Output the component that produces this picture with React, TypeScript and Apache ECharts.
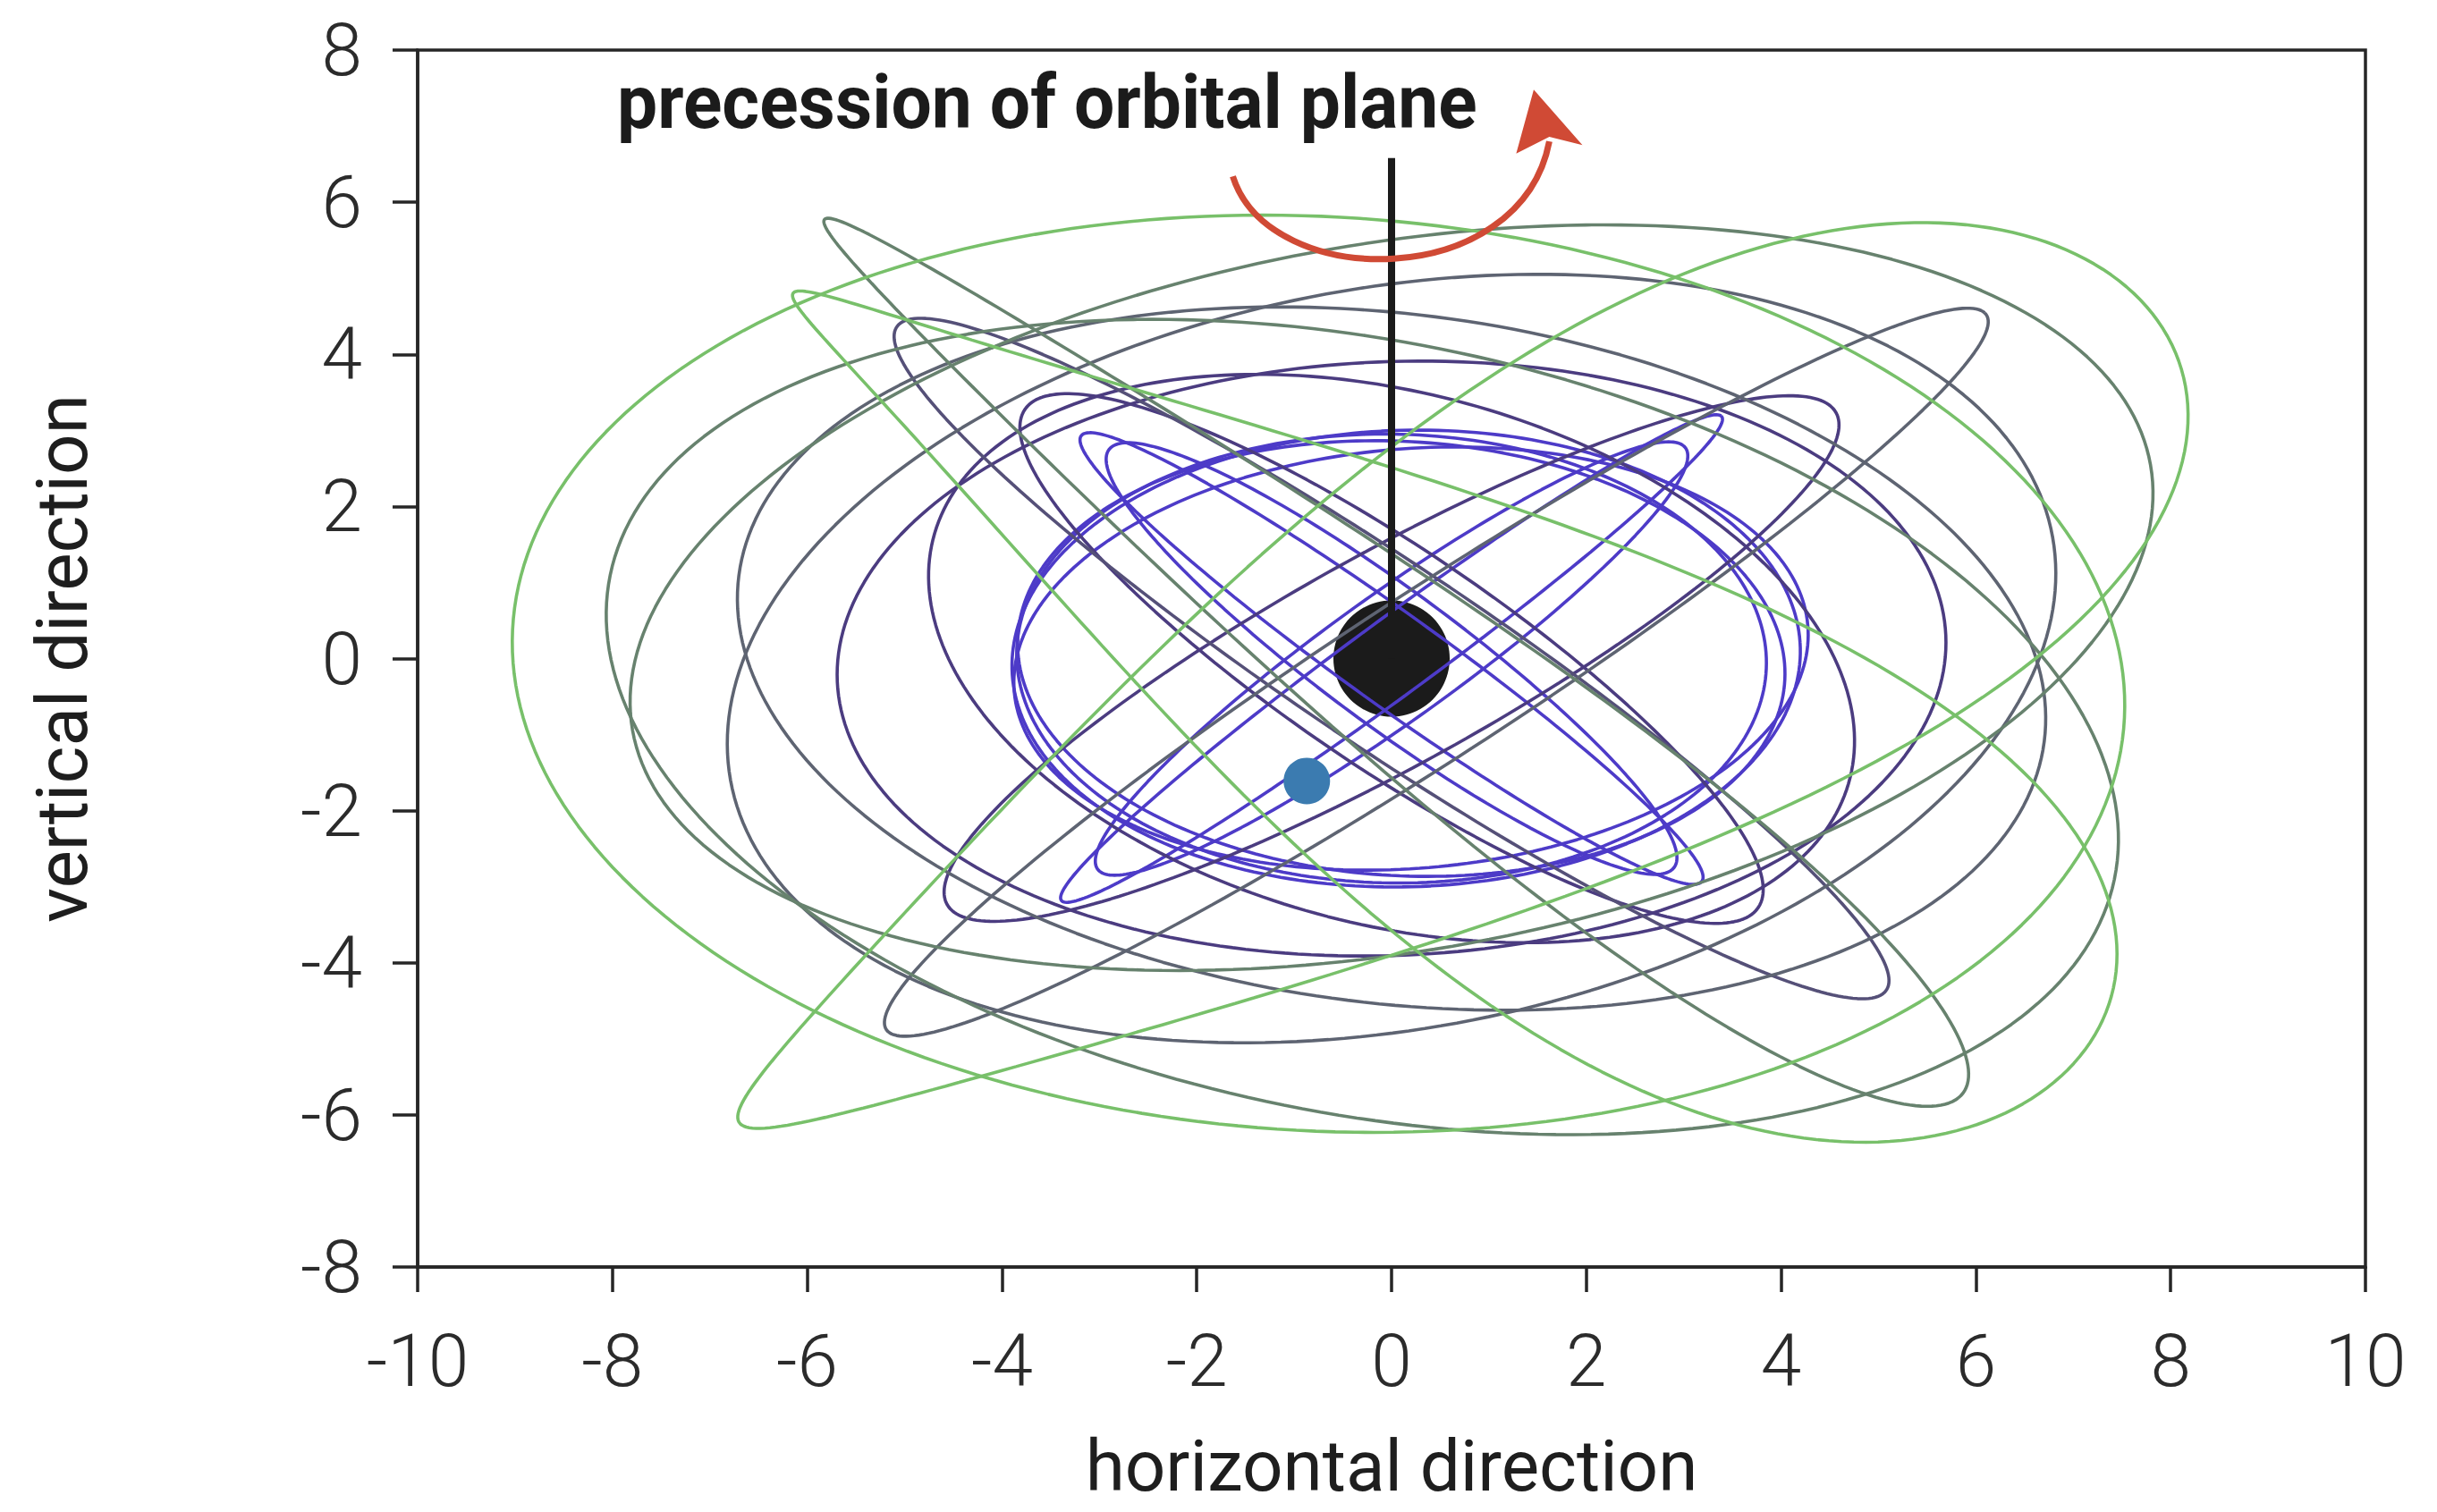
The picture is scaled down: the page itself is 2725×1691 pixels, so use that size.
import React, { useEffect, useRef } from "react";
import * as echarts from "echarts";

// ---- axes ----
const X_MIN = -10;
const X_MAX = 10;
const Y_MIN = -8;
const Y_MAX = 8;
const TICK_STEP = 2;

// ---- orbit loops ----
// centre, semi-major axis, half-width at the negative / positive end of the major axis, tilt (deg), colour group
const LOOP_CX = [0, 0, 0, 0, 0.15, 0.1, 0.2, 0, 0, 0, 0, 0, 0, 0.46, 0, 0, -0.3, 0, 0, 0.5, -0.75, 0.4];
const LOOP_CY = [0, 0, 0, 0, 0, 0, 0, 0, 0, 0, 0, 0, 0, -0.18, 0, 0, -0.9, 0.8, 0, -0.7, -0.2, -0.3];
const LOOP_A = [4.65, 4.1, 4.33, 4.0, 4.05, 3.95, 4.1, 3.85, 5.6, 5.7, 5.0, 5.0, 6.7, 7.35, 6.8, 7.0, 8.0, 8.0, 8.2, 9.0, 8.3, 8.3];
const LOOP_B_NEG = [0.45, 0.75, 0.55, 0.8, 3.0, 2.85, 2.75, 2.95, 1.3, 3.9, 3.4, 1.3, 1.1, 1.0, 4.5, 4.8, 5.0, 4.6, 0.5, 1.0, 6.0, 0.6];
const LOOP_B_POS = [0.45, 0.75, 0.55, 0.8, 3.0, 2.85, 2.75, 2.95, 1.3, 3.9, 3.4, 1.3, 1.1, 1.0, 4.5, 4.8, 5.0, 4.6, 1.6, 4.6, 6.0, 4.4];
const LOOP_TILT = [43.3, 43, -42.8, -44, 3, -6, 8, -2, 36, 4, -25, -42, -41, 40, -12, 18, -18, 15, -44.8, 37, -6, -38];
const LOOP_GROUP = [0, 0, 0, 0, 0, 0, 0, 0, 1, 1, 1, 1, 2, 3, 3, 3, 4, 4, 4, 5, 5, 5];
const GROUP_COLORS = ["#4d3bc8", "#4b3c80", "#555078", "#5e6472", "#67826e", "#78c06a"];

// ---- markers ----
const CENTRAL_BODY = [[0, 0]];
const COMPANION = [[-0.87, -1.61]];
const SPIN_AXIS = [[0, 0], [0, 6.58]];
// precession arrow: bezier shaft (4 points) and arrow head (4 points)
const ARROW_SHAFT = [[-1.63, 6.34], [-1.25, 4.82], [1.32, 4.82], [1.62, 6.8]];
const ARROW_HEAD = [[1.46, 7.48], [1.96, 6.75], [1.62, 6.86], [1.28, 6.64]];

const TITLE = "precession of orbital plane";
const X_NAME = "horizontal direction";
const Y_NAME = "vertical direction";

function loopPoints(i: number): number[][] {
  const pts: number[][] = [];
  const th = (LOOP_TILT[i] * Math.PI) / 180;
  const c = Math.cos(th);
  const s = Math.sin(th);
  const bn = LOOP_B_NEG[i];
  const bp = LOOP_B_POS[i];
  const n = 260;
  for (let k = 0; k <= n; k++) {
    const t = (k / n) * Math.PI * 2;
    const half = (bn + bp) / 2 + ((bp - bn) / 2) * Math.cos(t);
    const u = LOOP_A[i] * Math.cos(t);
    const v = half * Math.sin(t);
    pts.push([LOOP_CX[i] + u * c - v * s, LOOP_CY[i] + u * s + v * c]);
  }
  return pts;
}

export default function App() {
  const ref = useRef<HTMLDivElement>(null);
  useEffect(() => {
    document.body.style.margin = "0";
    const chart = echarts.init(ref.current!, undefined, { renderer: "svg" });
    const axisColor = "#262626";
    const labelStyle = {
      fontFamily: "Roboto",
      fontWeight: 300,
      fontSize: 82,
      color: "#2b2b2b",
    };
    const nameStyle = {
      fontFamily: "Roboto",
      fontWeight: 400,
      fontSize: 80,
      color: "#1e1e1e",
    };
    const loopSeries = LOOP_A.map((_, i) => ({
      type: "line",
      data: loopPoints(i),
      showSymbol: false,
      symbol: "none",
      silent: true,
      z: 2,
      lineStyle: { color: GROUP_COLORS[LOOP_GROUP[i]], width: 3.6 },
    }));
    chart.setOption({
      animation: false,
      backgroundColor: "#ffffff",
      grid: {
        left: 467,
        right: 80,
        top: 56,
        bottom: 274,
        outerBoundsMode: "none",
        show: true,
        borderColor: axisColor,
        borderWidth: 3.5,
        backgroundColor: "transparent",
      },
      xAxis: {
        type: "value",
        min: X_MIN,
        max: X_MAX,
        interval: TICK_STEP,
        axisLine: { show: true, onZero: false, lineStyle: { color: axisColor, width: 3.5 } },
        axisTick: { show: true, length: 28, lineStyle: { color: axisColor, width: 3.5 } },
        axisLabel: { ...labelStyle, margin: 64 },
        splitLine: { show: false },
        name: X_NAME,
        nameLocation: "middle",
        nameGap: 188,
        nameTextStyle: { ...nameStyle, lineHeight: 70 },
      },
      yAxis: {
        type: "value",
        min: Y_MIN,
        max: Y_MAX,
        interval: TICK_STEP,
        axisLine: { show: true, onZero: false, lineStyle: { color: axisColor, width: 3.5 } },
        axisTick: { show: true, length: 28, lineStyle: { color: axisColor, width: 3.5 } },
        axisLabel: { ...labelStyle, margin: 62 },
        splitLine: { show: false },
        name: Y_NAME,
        nameLocation: "middle",
        nameGap: 357,
        nameTextStyle: nameStyle,
      },
      series: [
        {
          type: "scatter",
          data: CENTRAL_BODY,
          symbolSize: 130,
          itemStyle: { color: "#1b1b1b", opacity: 1 },
          silent: true,
          z: 1,
        },
        ...loopSeries,
        {
          type: "line",
          data: SPIN_AXIS,
          showSymbol: false,
          symbol: "none",
          silent: true,
          z: 3,
          lineStyle: { color: "#1b1b1b", width: 8 },
        },
        {
          type: "scatter",
          data: COMPANION,
          symbolSize: 52,
          itemStyle: { color: "#3b7bb0", opacity: 1 },
          silent: true,
          z: 4,
        },
        {
          type: "custom",
          data: [0],
          silent: true,
          z: 5,
          renderItem: (_p: any, api: any) => {
            const s = ARROW_SHAFT.map((p) => api.coord(p));
            const h = ARROW_HEAD.map((p) => api.coord(p));
            return {
              type: "group",
              children: [
                {
                  type: "bezierCurve",
                  shape: {
                    x1: s[0][0], y1: s[0][1],
                    cpx1: s[1][0], cpy1: s[1][1],
                    cpx2: s[2][0], cpy2: s[2][1],
                    x2: s[3][0], y2: s[3][1],
                  },
                  style: { stroke: "#d04a35", lineWidth: 7, fill: null },
                },
                {
                  type: "polygon",
                  shape: { points: h },
                  style: { fill: "#d04a35", stroke: null },
                },
              ],
            };
          },
        },
      ],
      graphic: [
        {
          type: "text",
          x: 690,
          y: 114,
          scaleX: 0.957,
          z: 10,
          style: {
            text: TITLE,
            font: "bold 84px Roboto",
            fill: "#1b1b1b",
            align: "left",
            verticalAlign: "middle",
          },
        },
      ],
    });
    return () => chart.dispose();
  }, []);
  return (
    <div
      ref={ref}
      style={{ position: "fixed", left: 0, top: 0, width: 2725, height: 1691 }}
    />
  );
}
